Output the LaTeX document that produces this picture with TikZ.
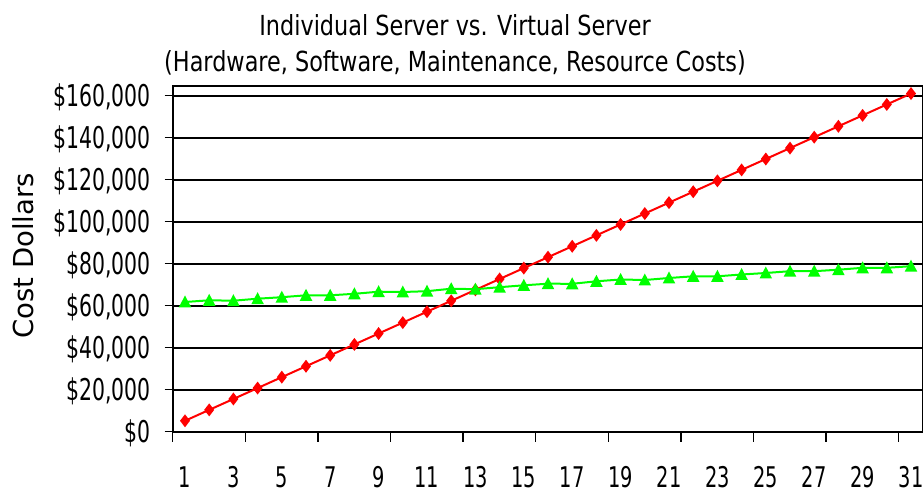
\documentclass[tikz,border=0pt]{standalone}
\usepackage{fontspec}
\setmainfont{DejaVu Sans}
\newfontfamily\ticksfont[FakeStretch=0.68]{DejaVu Sans}
\newfontfamily\titlefont[FakeStretch=0.81]{DejaVu Sans}
\definecolor{serred}{RGB}{255,0,0}
\definecolor{sergreen}{RGB}{0,255,0}
\tikzset{
  gridline/.style={black, line width=1.7pt},
  axisline/.style={black, line width=2pt},
  tickline/.style={black, line width=1.5pt},
  redline/.style={serred, line width=2pt, line join=round},
  greenline/.style={sergreen, line width=2pt, line join=round},
  ylab/.style={anchor=east, inner sep=0pt, font=\ticksfont\fontsize{30}{30}\selectfont},
  xlab/.style={anchor=center, inner sep=0pt, font=\ticksfont\fontsize{28.5}{28.5}\selectfont},
  titlelab/.style={anchor=base, inner sep=0pt, font=\titlefont\fontsize{27.6}{28}\selectfont},
  axtitle/.style={anchor=center, inner sep=0pt, rotate=90, font=\fontsize{27.5}{27.5}\selectfont}
}
\begin{document}
\begin{tikzpicture}[x=1pt,y=-1pt]
\useasboundingbox (0,0) rectangle (924,494);
\fill[white] (0,0) rectangle (924,494);
% titles
\node[titlelab] (t1) at (455,35.7) {Individual Server vs. Virtual Server};
\node[titlelab] (t2) at (455,72) {(Hardware, Software, Maintenance, Resource Costs)};
\node[axtitle] (yt) at (23.5,256) {Cost Dollars};
% gridlines and y labels
\foreach \k/\lab in {0/\$0,1/\$20{,}000,2/\$40{,}000,3/\$60{,}000,4/\$80{,}000,5/\$100{,}000,6/\$120{,}000,7/\$140{,}000,8/\$160{,}000}{
  \pgfmathsetmacro{\yy}{431.7-42*\k}
  \draw[gridline] (172.7,\yy) -- (922.5,\yy);
  \draw[tickline] (164.5,\yy) -- (172.7,\yy);
  \node[ylab] (yl\k) at (151,\yy+1.5) {\lab};
}
% plot border
\draw[gridline] (172.7,86) rectangle (922.5,431.7);
\draw[axisline] (172.7,86) -- (172.7,431.7) -- (922.5,431.7);
% x ticks
\foreach \k in {0,...,10}{
  \draw[tickline] ({172.7+72.6*\k},431.7) -- ({172.7+72.6*\k},442);
}
% x labels
\foreach \n in {1,3,...,31}{
  \node[xlab] (xl\n) at ({185+24.2*(\n-1)},477) {\n};
}
% red series
\foreach \n in {1,...,31}{
  \coordinate (r\n) at ({185+24.2*(\n-1)},{431.7-0.0021*5180*\n});
}
\draw[redline] (r1) \foreach \n in {2,...,31}{ -- (r\n)};
\foreach \n in {1,...,31}{
  \fill[serred] (r\n) ++(0,-6.5) -- ++(5,6.5) -- ++(-5,6.5) -- ++(-5,-6.5) -- cycle;
}
% green series
\foreach \yy [count=\n] in {302,300.3,300.7,298.7,297.2,295.3,295.3,293.8,291.7,292,291.2,288.7,289.2,287.2,285.3,283.7,283.8,281.3,279.5,280,278,276.3,276.3,274.5,273,271.2,271.2,269.7,267.8,267.8,266.2}{
  \coordinate (g\n) at ({185+24.2*(\n-1)},\yy);
}
\draw[greenline] (g1) \foreach \n in {2,...,31}{ -- (g\n)};
\foreach \n in {1,...,31}{
  \fill[sergreen] (g\n) ++(0,-6.5) -- ++(6.3,12) -- ++(-12.6,0) -- cycle;
}
\end{tikzpicture}
\end{document}
